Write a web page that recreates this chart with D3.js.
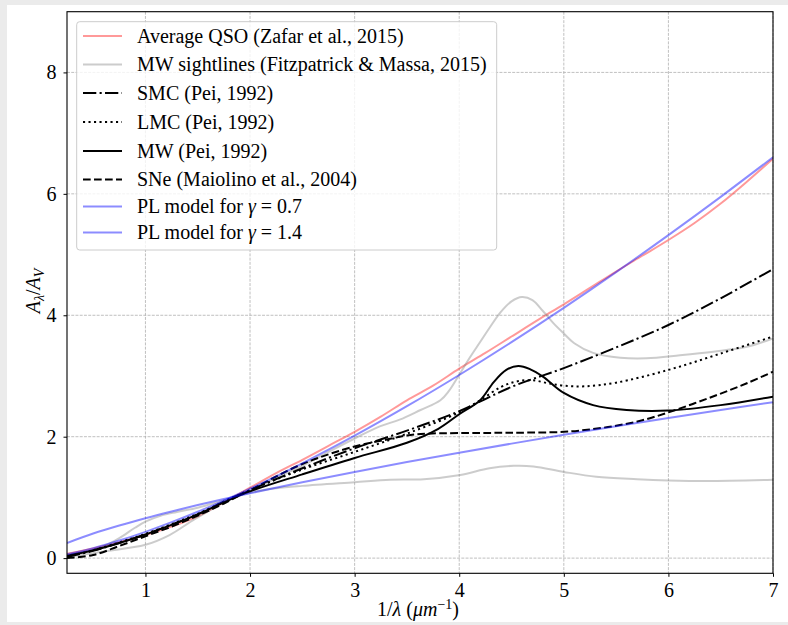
<!DOCTYPE html>
<html>
<head>
<meta charset="utf-8">
<script src="https://cdn.jsdelivr.net/npm/d3@7"></script>
<style>
  html, body { margin: 0; padding: 0; background: #ebebeb; }
  svg { display: block; }
  text { font-family: "Liberation Serif", "DejaVu Serif", serif; fill: #000; }
</style>
</head>
<body>
<svg id="chart" width="788" height="625"></svg>
<script>
// Inverse wavelength grid (1/um) and A_lambda/A_V curves.
const qsoX = [0.25,0.5,0.75,1,1.25,1.5,1.75,2,2.25,2.5,2.75,3,3.25,3.5,3.75,4,4.25,4.5,4.75,5,5.25,5.5,5.75,6,6.25,6.5,6.75,7];
const qsoY = [0.07,0.16,0.26,0.38,0.52,0.69,0.92,1.16,1.40,1.62,1.85,2.08,2.33,2.60,2.84,3.12,3.38,3.65,3.92,4.18,4.45,4.72,4.98,5.24,5.52,5.84,6.20,6.58];

// Two Milky Way sightlines bracketing the observed range
const mwSteepX = [0.25,0.6,1,1.23,1.46,1.65,1.84,2,2.25,2.5,2.75,3,3.24,3.43,3.63,3.82,3.9,4,4.1,4.2,4.3,4.4,4.5,4.6,4.7,4.8,4.9,5,5.1,5.28,5.54,5.79,6.11,6.43,6.75,7];
const mwSteepY = [0.02,0.11,0.22,0.38,0.63,0.82,1.01,1.10,1.32,1.52,1.75,1.97,2.17,2.28,2.44,2.60,2.75,3.02,3.30,3.56,3.82,4.06,4.23,4.30,4.25,4.07,3.87,3.70,3.54,3.38,3.30,3.29,3.34,3.40,3.48,3.62];
const mwFlatX = [0.25,0.5,0.62,0.75,0.9,1,1.15,1.3,1.5,1.71,2,2.25,2.5,3,3.34,3.66,4.01,4.29,4.52,4.71,5,5.31,5.7,6,6.37,7];
const mwFlatY = [0.05,0.14,0.21,0.33,0.50,0.60,0.70,0.76,0.83,0.93,1.08,1.15,1.19,1.25,1.29,1.30,1.37,1.48,1.52,1.51,1.42,1.34,1.30,1.28,1.27,1.29];

// Pei (1992) extinction laws
const smcX = [0.25,0.5,0.75,1,1.25,1.5,1.75,2,2.5,3,3.5,4,4.5,5,5.5,6,6.5,7];
const smcY = [0.02,0.12,0.25,0.39,0.55,0.72,0.93,1.12,1.48,1.81,2.10,2.42,2.82,3.13,3.47,3.84,4.28,4.76];
const lmcX = [0.25,0.5,0.75,1,1.25,1.5,1.75,2,2.5,3,3.5,4,4.2,4.4,4.55,4.7,4.85,5,5.2,5.5,6,6.5,7];
const lmcY = [0.03,0.13,0.26,0.40,0.56,0.73,0.93,1.12,1.46,1.75,2.05,2.40,2.60,2.82,2.91,2.93,2.88,2.84,2.83,2.89,3.10,3.37,3.65];
const mwX = [0.25,0.5,0.75,1,1.25,1.5,1.75,2,2.5,3,3.5,3.8,4,4.2,4.33,4.45,4.565,4.68,4.8,5,5.28,5.6,6,6.5,7];
const mwY = [0.04,0.13,0.25,0.39,0.55,0.72,0.92,1.10,1.38,1.65,1.90,2.13,2.37,2.60,2.90,3.10,3.165,3.11,2.99,2.72,2.52,2.44,2.43,2.52,2.66];

// Supernova dust (Maiolino et al. 2004)
const sneX = [0.25,0.5,0.75,1,1.25,1.5,1.75,2,2.5,3,3.3,3.5,3.7,4,4.5,5,5.25,5.5,5.75,6,6.25,6.5,6.75,7];
const sneY = [0.0,0.05,0.20,0.36,0.52,0.70,0.90,1.12,1.55,1.84,1.95,2.02,2.05,2.06,2.065,2.08,2.12,2.18,2.27,2.40,2.55,2.71,2.88,3.07];

// Power-law models
const plX = [0.25,0.5,0.75,1,1.25,1.5,1.75,2,2.5,3,3.5,4,4.5,5,5.5,6,6.5,7];
const pl07Y = [0.2494,0.4051,0.5380,0.6580,0.7693,0.8741,0.9736,1.0690,1.2498,1.4199,1.5817,1.7367,1.8859,2.0302,2.1703,2.3066,2.4394,2.5695];
const pl14Y = [0.0622,0.1641,0.2894,0.4330,0.5918,0.7641,0.9479,1.1428,1.5620,2.0161,2.5018,3.0161,3.5566,4.1217,4.7102,5.3204,5.9507,6.6023];

const xTicks = [1,2,3,4,5,6,7];
const yTicks = [0,2,4,6,8];

const W = 788, H = 625;
const plot = { left: 67, right: 773, top: 11.7, bottom: 573.3 };
const FS = 20;

const svg = d3.select("#chart");
svg.append("rect").attr("x", 7).attr("y", 5).attr("width", W - 7).attr("height", 617).attr("fill", "#fff");

const x = d3.scaleLinear().domain([0.25, 7]).range([plot.left, plot.right]);
const y = d3.scaleLinear().domain([-0.25, 9]).range([plot.bottom, plot.top]);

svg.append("defs").append("clipPath").attr("id", "plotclip")
  .append("rect").attr("x", plot.left).attr("y", plot.top)
  .attr("width", plot.right - plot.left).attr("height", plot.bottom - plot.top);

// grid
const grid = svg.append("g").attr("stroke", "#b0b0b0").attr("stroke-width", 0.8).attr("stroke-dasharray", "2.96,1.28");
grid.selectAll("line.gx").data(xTicks).join("line")
  .attr("x1", d => x(d)).attr("x2", d => x(d)).attr("y1", plot.top).attr("y2", plot.bottom);
grid.selectAll("line.gy").data(yTicks).join("line")
  .attr("y1", d => y(d)).attr("y2", d => y(d)).attr("x1", plot.left).attr("x2", plot.right);

const zip = (xs, ys) => xs.map((v, i) => [v, ys[i]]);
const line = d3.line().x(d => x(d[0])).y(d => y(d[1])).curve(d3.curveCatmullRom.alpha(0.5));

const LW = 2.0;
const series = [
  { label: "Average QSO (Zafar et al., 2015)", data: [zip(qsoX, qsoY)], color: "red", opacity: 0.4, dash: null },
  { label: "MW sightlines (Fitzpatrick & Massa, 2015)", data: [zip(mwSteepX, mwSteepY), zip(mwFlatX, mwFlatY)], color: "gray", opacity: 0.4, dash: null },
  { label: "SMC (Pei, 1992)", data: [zip(smcX, smcY)], color: "black", opacity: 1, dash: [13.3, 3.3, 2.1, 3.3] },
  { label: "LMC (Pei, 1992)", data: [zip(lmcX, lmcY)], color: "black", opacity: 1, dash: [2.1, 3.4] },
  { label: "MW (Pei, 1992)", data: [zip(mwX, mwY)], color: "black", opacity: 1, dash: null },
  { label: "SNe (Maiolino et al., 2004)", data: [zip(sneX, sneY)], color: "black", opacity: 1, dash: [7.7, 3.3] },
  { label: "PL model for ", gamma: "0.7", data: [zip(plX, pl07Y)], color: "blue", opacity: 0.45, dash: null },
  { label: "PL model for ", gamma: "1.4", data: [zip(plX, pl14Y)], color: "blue", opacity: 0.45, dash: null }
];

const lines = svg.append("g").attr("clip-path", "url(#plotclip)");
series.forEach(s => {
  s.data.forEach(pts => {
    lines.append("path").attr("d", line(pts))
      .attr("fill", "none").attr("stroke", s.color).attr("stroke-opacity", s.opacity)
      .attr("stroke-width", LW).attr("stroke-dasharray", s.dash ? s.dash.join(",") : null)
      .attr("stroke-linejoin", "round");
  });
});

// axes
const xAxis = d3.axisBottom(x).tickValues(xTicks).tickSize(3.5).tickPadding(6).tickFormat(d3.format("d"));
const yAxis = d3.axisLeft(y).tickValues(yTicks).tickSize(3.5).tickPadding(7).tickFormat(d3.format("d"));
const gx = svg.append("g").attr("transform", `translate(0,${plot.bottom})`).call(xAxis);
const gy = svg.append("g").attr("transform", `translate(${plot.left},0)`).call(yAxis);
[gx, gy].forEach(g => {
  g.select(".domain").remove();
  g.selectAll(".tick line").attr("stroke", "#000").attr("stroke-width", 1);
  g.selectAll(".tick text").style("font-size", FS + "px").attr("fill", "#000");
});

// frame
svg.append("rect").attr("x", plot.left).attr("y", plot.top)
  .attr("width", plot.right - plot.left).attr("height", plot.bottom - plot.top)
  .attr("fill", "none").attr("stroke", "#000").attr("stroke-width", 1.1);

// axis labels
const xl = svg.append("text").attr("x", 418).attr("y", 616).attr("text-anchor", "middle").style("font-size", FS + "px");
xl.append("tspan").text("1/");
xl.append("tspan").attr("font-style", "italic").text("λ");
xl.append("tspan").text(" (");
xl.append("tspan").attr("font-style", "italic").text("μm");
xl.append("tspan").attr("dy", -7).style("font-size", (FS * 0.7) + "px").text("−1");
xl.append("tspan").attr("dy", 7).text(")");

const yl = svg.append("text").attr("transform", `translate(40,291) rotate(-90)`).attr("text-anchor", "middle").style("font-size", FS + "px");
yl.append("tspan").attr("font-style", "italic").text("A");
yl.append("tspan").attr("font-style", "italic").attr("dy", 4).style("font-size", (FS * 0.7) + "px").text("λ");
yl.append("tspan").attr("dy", -4).text("/");
yl.append("tspan").attr("font-style", "italic").text("A");
yl.append("tspan").attr("font-style", "italic").attr("dy", 4).style("font-size", (FS * 0.7) + "px").text("V");

// legend
const lg = svg.append("g");
lg.append("rect").attr("x", 76.7).attr("y", 21.7).attr("width", 420).attr("height", 228.3)
  .attr("rx", 3).attr("fill", "#fff").attr("fill-opacity", 0.8).attr("stroke", "#cccccc").attr("stroke-width", 1);
const rowY = [36, 64.5, 93, 122, 151, 179.5, 206.5, 232.5];
series.forEach((s, i) => {
  const cy = rowY[i];
  lg.append("line").attr("x1", 83).attr("x2", 122).attr("y1", cy).attr("y2", cy)
    .attr("stroke", s.color).attr("stroke-opacity", s.opacity).attr("stroke-width", LW)
    .attr("stroke-dasharray", s.dash ? s.dash.join(",") : null);
  const t = lg.append("text").attr("x", 137).attr("y", cy + 6.5).style("font-size", FS + "px");
  t.append("tspan").text(s.label);
  if (s.gamma) {
    t.append("tspan").attr("font-style", "italic").text("γ");
    t.append("tspan").text(" = " + s.gamma);
  }
});
</script>
</body>
</html>
